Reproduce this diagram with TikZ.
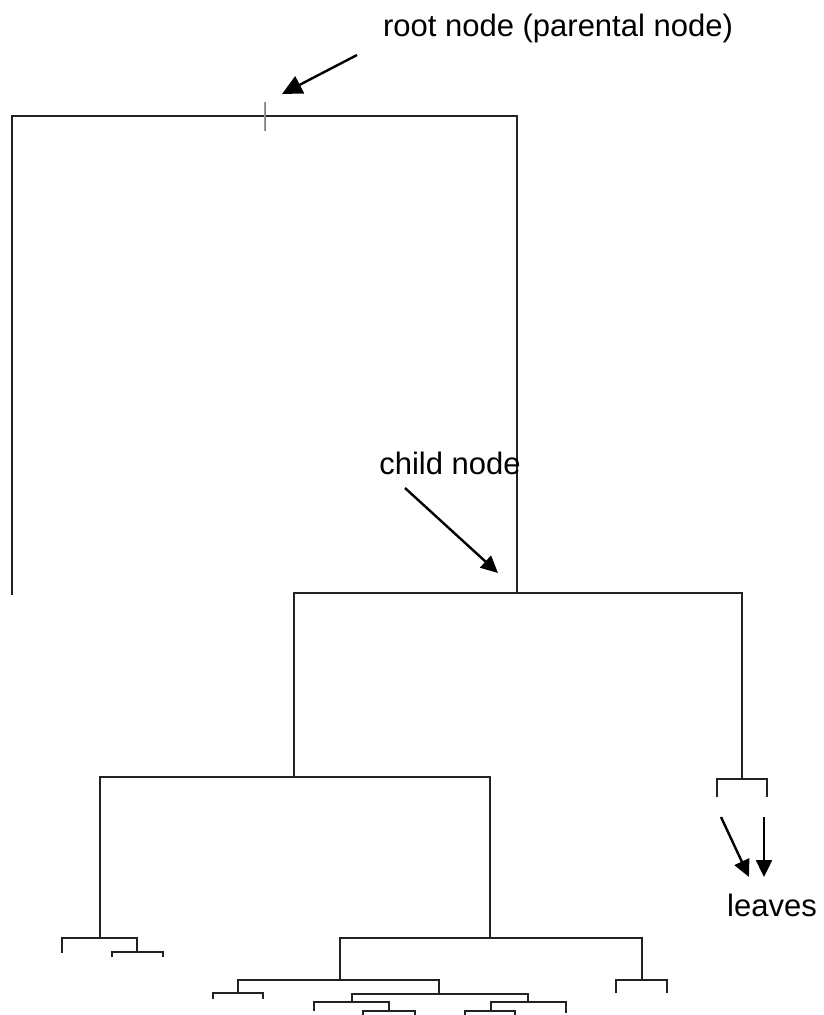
\documentclass[tikz,border=0pt]{standalone}
\usepackage{fontspec}
\setmainfont{Liberation Sans}
\usetikzlibrary{arrows.meta}
\definecolor{treeline}{RGB}{34,34,34}
\definecolor{tickorange}{RGB}{205,150,80}
\definecolor{tickblue}{RGB}{60,140,220}
\begin{document}
\begin{tikzpicture}[x=1pt,y=-1pt,
  branch/.style={draw=treeline,line width=1.8pt,line cap=butt,line join=miter},
  pointer/.style={draw=black,line width=2.4pt,-{Triangle[length=17pt,width=16pt]}},
  bigpointer/.style={pointer,-{Triangle[length=20pt,width=19pt]}},
  lbl/.style={font=\fontsize{31}{36}\selectfont,inner sep=0pt,anchor=base}]
\useasboundingbox (0,0) rectangle (824,1015);
% tree nodes
\coordinate (R) at (265,116);
\coordinate (A) at (12,595);
\coordinate (B) at (517,593);
\coordinate (C) at (294,777);
\coordinate (D) at (742,779);
\coordinate (D1) at (717,797);
\coordinate (D2) at (767,797);
\coordinate (E) at (100,938);
\coordinate (F) at (490,938);
\coordinate (E1) at (62,953);
\coordinate (G) at (137,952);
\coordinate (G1) at (112,957);
\coordinate (G2) at (163,957);
\coordinate (H) at (340,980);
\coordinate (I) at (642,980);
\coordinate (I1) at (616,993);
\coordinate (I2) at (667,993);
\coordinate (J) at (238,993);
\coordinate (K) at (439,994);
\coordinate (J1) at (213,999);
\coordinate (J2) at (263,999);
\coordinate (L) at (352,1002);
\coordinate (M) at (528,1002);
\coordinate (L1) at (314,1011);
\coordinate (N) at (389,1011);
\coordinate (N1) at (363,1016);
\coordinate (N2) at (415,1016);
\coordinate (O) at (491,1011);
\coordinate (M2) at (566,1013);
\coordinate (O1) at (465,1016);
\coordinate (O2) at (515,1016);
% branches
\draw[branch] (A) |- (R) -| (B);
\draw[branch] (C) |- (B) -| (D);
\draw[branch] (D1) |- (D) -| (D2);
\draw[branch] (E) |- (C) -| (F);
\draw[branch] (E1) |- (E) -| (G);
\draw[branch] (G1) |- (G) -| (G2);
\draw[branch] (H) |- (F) -| (I);
\draw[branch] (I1) |- (I) -| (I2);
\draw[branch] (J) |- (H) -| (K);
\draw[branch] (J1) |- (J) -| (J2);
\draw[branch] (L) |- (K) -| (M);
\draw[branch] (L1) |- (L) -| (N);
\draw[branch] (N1) |- (N) -| (N2);
\draw[branch] (O) |- (M) -| (M2);
\draw[branch] (O1) |- (O) -| (O2);
% root tick
\coordinate (Rt) at (265,102);
\coordinate (Rb) at (265,131);
\draw[tickorange,line width=1.2pt] ([xshift=-0.6pt]Rt) -- ([xshift=-0.6pt]Rb);
\draw[tickblue,line width=1.2pt] ([xshift=0.6pt]Rt) -- ([xshift=0.6pt]Rb);
% labels
\node[lbl] (rootlbl) at (558,36) {root node (parental node)};
\node[lbl] (childlbl) at (450,474) {child node};
\node[lbl] (leaveslbl) at (772,916) {leaves};
% pointers
\coordinate (ra) at (357,55);
\coordinate (rb) at (282,94);
\coordinate (ca) at (405,488);
\coordinate (cb) at (498,573);
\coordinate (la1) at (721,817);
\coordinate (lb1) at (749,877);
\coordinate (la2) at (764,817);
\coordinate (lb2) at (764,877);
\draw[bigpointer] (ra) -- (rb);
\draw[pointer] (ca) -- (cb);
\draw[pointer] (la1) -- (lb1);
\draw[pointer] (la2) -- (lb2);
\end{tikzpicture}
\end{document}
